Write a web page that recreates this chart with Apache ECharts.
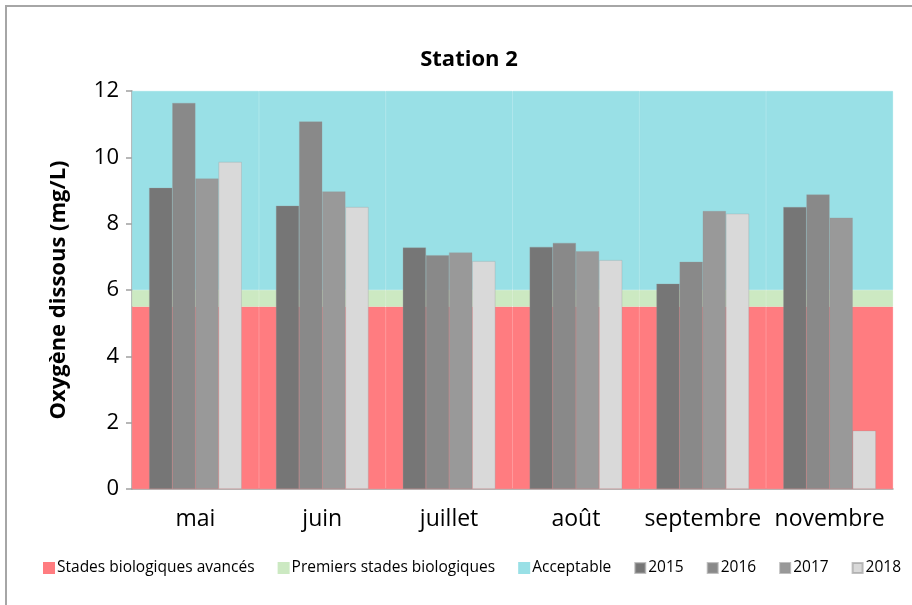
<!DOCTYPE html>
<html>
<head>
<meta charset="utf-8">
<script src="https://cdn.jsdelivr.net/npm/echarts@6/dist/echarts.min.js"></script>
<style>
html, body { margin: 0; padding: 0; background: #fff; }
#station2 { width: 912px; height: 605px; }
</style>
</head>
<body>
<div id="station2"></div>
<script>
// categories (mois)
var mois = ['mai', 'juin', 'juillet', 'août', 'septembre', 'novembre'];

// bandes de référence (empilées)
var stadesAvances = [5.5, 5.5, 5.5, 5.5, 5.5, 5.5];
var premiersStades = [0.5, 0.5, 0.5, 0.5, 0.5, 0.5];
var acceptable = [6, 6, 6, 6, 6, 6];

// oxygène dissous par année (mg/L)
var o2015 = [9.08, 8.54, 7.28, 7.30, 6.19, 8.50];
var o2016 = [11.64, 11.08, 7.05, 7.42, 6.85, 8.88];
var o2017 = [9.36, 8.97, 7.13, 7.17, 8.38, 8.18];
var o2018 = [9.86, 8.50, 6.87, 6.90, 8.30, 1.76];

var police = '"Open Sans", "Noto Sans", sans-serif';

var chart = echarts.init(document.getElementById('station2'));

function bande(nom, valeurs, couleur) {
    return {
        name: nom,
        type: 'bar',
        xAxisIndex: 1,
        stack: 'bandes',
        barWidth: '100%',
        data: valeurs,
        silent: true,
        itemStyle: { color: couleur, borderColor: couleur, borderWidth: 0.8 },
        z: 1
    };
}

function annee(nom, valeurs, couleur) {
    return {
        name: nom,
        type: 'bar',
        xAxisIndex: 0,
        data: valeurs,
        barGap: '0%',
        barCategoryGap: '27%',
        itemStyle: { color: couleur, borderColor: 'rgba(150,150,150,0.6)', borderWidth: 0.5 },
        z: 3
    };
}

var option = {
    backgroundColor: '#fff',
    animation: false,
    textStyle: { fontFamily: police },
    title: {
        text: 'Station 2',
        left: 464,
        top: 44,
        textAlign: 'center',
        textStyle: { fontSize: 22, fontWeight: 'bold', color: '#000', fontFamily: police }
    },
    graphic: [{
        type: 'polyline',
        shape: { points: [[6, 605], [6, 6], [912, 6]] },
        style: { stroke: '#a6a6a6', lineWidth: 2, fill: null }
    }],
    legend: {
        left: 38,
        top: 555,
        itemWidth: 10,
        itemHeight: 10,
        itemGap: 23,
        icon: 'rect',
        textStyle: { fontSize: 15.5, color: '#000', fontFamily: police, padding: [0, 0, 0, -2] },
        data: ['Stades biologiques avancés', 'Premiers stades biologiques', 'Acceptable', '2015', '2016', '2017', '2018']
    },
    grid: { left: 132, right: 19, top: 91, bottom: 116 },
    xAxis: [{
        type: 'category',
        data: mois,
        axisLine: { lineStyle: { color: '#a0a0a0', width: 1.5 } },
        axisTick: { length: 8, lineStyle: { color: '#a0a0a0', width: 1.5 } },
        axisLabel: { interval: 0, fontSize: 23, color: '#000', margin: 19, fontFamily: police }
    }, {
        type: 'category',
        data: mois,
        show: false
    }],
    yAxis: {
        type: 'value',
        min: 0,
        max: 12,
        interval: 2,
        name: 'Oxygène dissous (mg/L)',
        nameLocation: 'middle',
        nameGap: 62,
        nameTextStyle: { fontSize: 22, fontWeight: 'bold', color: '#000', fontFamily: police },
        axisLine: { show: true, lineStyle: { color: '#a0a0a0', width: 1.5 } },
        axisTick: { show: true, length: 6, lineStyle: { color: '#a0a0a0', width: 1.5 } },
        axisLabel: { fontSize: 22, color: '#000', margin: 13, fontFamily: police },
        splitLine: { show: false }
    },
    series: [
        bande('Stades biologiques avancés', stadesAvances, '#ff7c80'),
        bande('Premiers stades biologiques', premiersStades, '#cce9c2'),
        bande('Acceptable', acceptable, '#99e0e6'),
        annee('2015', o2015, '#767676'),
        annee('2016', o2016, '#898989'),
        annee('2017', o2017, '#999999'),
        annee('2018', o2018, '#d9d9d9')
    ]
};

chart.setOption(option);
</script>
</body>
</html>
